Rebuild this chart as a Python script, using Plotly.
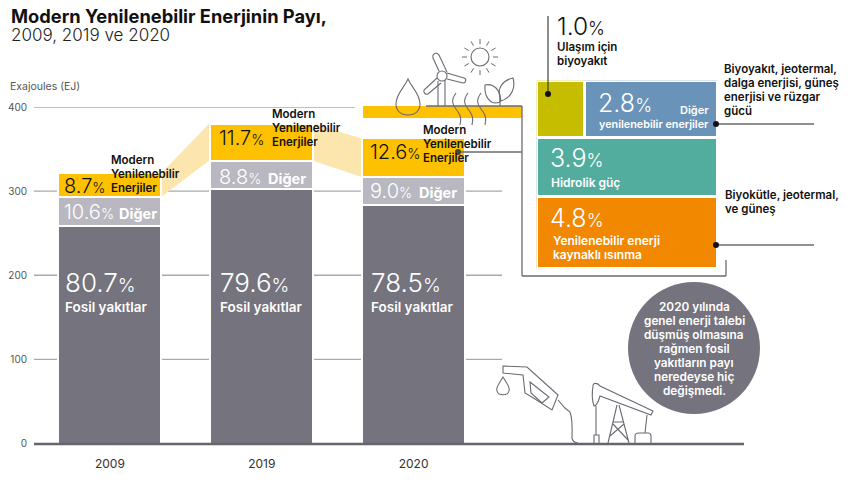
import math

import plotly.graph_objects as go

# ── Data ──────────────────────────────────────────────────────────
YEARS = ["2009", "2019", "2020"]
FOSSIL_EJ = [259, 303, 284]
OTHER_EJ = [34, 33, 33]
MODERN_EJ = [28, 44, 46]

FOSSIL_PCT = ["80.7", "79.6", "78.5"]
OTHER_PCT = ["10.6", "8.8", "9.0"]
MODERN_PCT = ["8.7", "11.7", "12.6"]

Y_TICKS = [0, 100, 200, 300, 400]

# 2020 breakdown of modern renewables: (row, value)
SPLIT_ROWS = [0, 0, 1, 2]
SPLIT_VALUES = [1.0, 2.8, 3.9, 4.8]
SPLIT_COLORS = ["#c6bd00", "#6a93ba", "#52ad9f", "#f28700"]

CIRCLE_LINES = ["2020 yılında", "genel enerji talebi", "düşmüş olmasına", "rağmen fosil",
                "yakıtların payı", "neredeyse hiç", "değişmedi."]

# ── Styles ────────────────────────────────────────────────────────
W, H = 852, 502
BODY = 8             # the page keeps an 8px body margin, so the figure is that much smaller
DARK = "#75737d"
GREY = "#b9b8c0"
YELLOW = "#fec100"
PALE = "#fde5ae"
ICON = "#6b6a72"
FONT = "Inter"

BAR_LEFT = 34        # px where the y axis starts
BAR_STEP = 152       # px between bars
BAR_WIDTH = 103 / BAR_STEP


def px(x):
    return (x - BODY) / (W - BODY)


def py(y):
    return (H - y) / (H - BODY)


fig = go.Figure()

# ── Stacked bars ──────────────────────────────────────────────────
for vals, color in [(FOSSIL_EJ, DARK), (OTHER_EJ, GREY), (MODERN_EJ, YELLOW)]:
    fig.add_trace(go.Bar(
        x=YEARS, y=vals, width=BAR_WIDTH,
        marker=dict(color=color, line=dict(color="white", width=2)),
        hoverinfo="skip", showlegend=False,
    ))

# ── Breakdown panel, areas proportional to the values ─────────────
row_sums = [sum(v for r, v in zip(SPLIT_ROWS, SPLIT_VALUES) if r == i) for i in range(3)]
bar_x, bar_w, bar_base, bar_h = [], [], [], []
for r, v in zip(SPLIT_ROWS, SPLIT_VALUES):
    before = sum(u for s, u in zip(SPLIT_ROWS[:len(bar_x)], SPLIT_VALUES) if s == r)
    bar_x.append((before + v / 2) / row_sums[r])
    bar_w.append(v / row_sums[r])
    bar_base.append(sum(row_sums[:r]))
    bar_h.append(row_sums[r])
fig.add_trace(go.Bar(
    x=bar_x, y=bar_h, base=bar_base, width=bar_w,
    marker=dict(color=SPLIT_COLORS, line=dict(color="white", width=3)),
    xaxis="x2", yaxis="y2", hoverinfo="skip", showlegend=False,
))

# empty trace so the pixel canvas axes exist
fig.add_trace(go.Scatter(x=[], y=[], xaxis="x3", yaxis="y3", hoverinfo="skip", showlegend=False))

# ── Shapes behind the bars ────────────────────────────────────────
shapes = []
for tick in Y_TICKS[1:]:
    shapes.append(dict(type="line", xref="paper", yref="y", layer="below",
                       x0=px(BAR_LEFT), x1=px(355 if tick == 400 else 502), y0=tick, y1=tick,
                       line=dict(color="#a9a9ad", width=1.3)))

# pale connectors between the modern segments
tops = [a + b + c for a, b, c in zip(FOSSIL_EJ, OTHER_EJ, MODERN_EJ)]
bottoms = [a + b for a, b in zip(FOSSIL_EJ, OTHER_EJ)]
for i in range(2):
    x0 = px(161 + i * BAR_STEP)
    x1 = px(209 + i * BAR_STEP)
    shapes.append(dict(type="path", xref="paper", yref="y", layer="below",
                       path=f"M{x0},{tops[i]} L{x1},{tops[i + 1]} L{x1},{bottoms[i + 1]} L{x0},{bottoms[i]} Z",
                       fillcolor=PALE, line=dict(width=0)))


def canvas(**kw):
    kw.setdefault("layer", "above")
    shapes.append(dict(xref="x3", yref="y3", **kw))


def icon(path, width=1.1, fill=None):
    canvas(type="path", path=path, line=dict(color=ICON, width=width),
           fillcolor=fill if fill else "rgba(0,0,0,0)")


def seg(x0, y0, x1, y1, color=ICON, width=1.3):
    canvas(type="line", x0=x0, y0=y0, x1=x1, y1=y1, line=dict(color=color, width=width))


def dot(x, y, color="#111111"):
    canvas(type="circle", x0=x - 3, x1=x + 3, y0=y - 3, y1=y + 3, fillcolor=color, line=dict(width=0))


# ── Baseline, band, leader lines ──────────────────────────────────
seg(BAR_LEFT, 444, 744, 444, color="#66656d", width=2.4)
canvas(type="rect", x0=363, x1=522, y0=106, y1=118, fillcolor=YELLOW, line=dict(width=0))
seg(426, 106, 522, 106)
seg(522, 106, 522, 276)
seg(522, 276, 726, 276)
seg(726, 276, 726, 260)
seg(458, 152, 522, 152)
dot(458, 152, color="#444444")
seg(548, 16, 548, 94, color="#333333", width=1.1)
dot(548, 94)
seg(716, 124, 814, 124, color="#222222", width=1.1)
dot(716, 124)
seg(716, 245, 814, 245, color="#222222", width=1.1)
dot(716, 245)

# circle callout
canvas(type="circle", x0=628, x1=760, y0=282, y1=414, fillcolor=DARK, line=dict(width=0))

# ── Icons, top ────────────────────────────────────────────────────
icon("M408,79 C404,88 396,94 396,104 C396,111 401,115 408,115 C415,115 420,111 420,104 C420,94 412,88 408,79 Z")
icon("M438,81 L438,106 M445,80 L445,106")
canvas(type="circle", x0=437, x1=447, y0=71, y1=81, line=dict(color=ICON, width=1.1))
icon("M439,71 L433,58 C432,53 437,52 439,55 L447,72")
icon("M447,73 L464,78 C467,79 466,83 463,83 L447,79")
icon("M437,78 L424,90 C423,93 426,95 428,94 L441,83")
canvas(type="circle", x0=471, x1=489, y0=48, y1=66, line=dict(color=ICON, width=1.1))
for k in range(12):
    a = math.radians(30 * k)
    seg(480 + 13 * math.cos(a), 57 + 13 * math.sin(a), 480 + 18 * math.cos(a), 57 + 18 * math.sin(a), width=1.0)
for dx in [0, 12, 25]:
    icon(f"M{456 + dx},93 C{451 + dx},100 {452 + dx},104 {456 + dx},109 C{460 + dx},114 {462 + dx},118 {460 + dx},125")
icon("M500,106 L500,97")
icon("M500,102 C490,106 484,96 485,85 C493,83 502,90 500,102 Z")
icon("M500,97 C497,88 503,80 513,78 C516,88 511,98 501,101 Z")

# ── Icons, bottom ─────────────────────────────────────────────────
icon("M503,366 L527,367 L558,395 L552,410 L535,399 L525,393 L523,375 L503,373 Z")
icon("M530,382 L549,397 L542,403 L531,393 Z")
icon("M558,400 L565,408 L570,412 C573,420 572,435 572,438 C573,442 576,443 578,443")
icon("M503,377 C498,385 496,388 497,391 C498,396 508,396 509,391 C510,388 508,385 503,377 Z")
icon("M593,386 C593,382 598,383 600,386 L653,411 L651,415 L600,396 C598,403 596,406 594,406 C592,400 592,392 593,386 Z")
icon("M596,406 L596,435 M594,444 L594,435 L599,435 L599,444")
icon("M617,405 L608,443 M619,405 L629,443 M613,422 L624,422 M610,436 L624,424 M613,424 L628,440")
icon("M647,415 L645,433 M635,443 L635,436 C635,434 637,433 639,433 L648,433 C650,433 651,434 651,436 L651,443")

# ── Text ──────────────────────────────────────────────────────────
annotations = []


def note(x, y, text, size=11.5, color="#111111", weight=600, anchor="left"):
    annotations.append(dict(xref="x3", yref="y3", x=x, y=y, text=text, showarrow=False,
                            xanchor=anchor, yanchor="middle", align=anchor, borderpad=0,
                            font=dict(family=FONT, size=size, color=color, weight=weight)))


def pct(x, y, value, size, color="white", weight=300):
    small = round(size * 0.72)
    note(x, y, f'{value}<span style="font-size:{small}px">%</span>', size=size, color=color, weight=weight)


note(10, 15.5, "Modern Yenilenebilir Enerjinin Payı,", size=18.3, weight=700)
note(10, 35, "2009, 2019 ve 2020", size=17, color="#222222", weight=300)
note(9, 86, "Exajoules (EJ)", size=10.5, color="#555555", weight=400)

BAR_TEXT_X = [63, 218, 369]
MODERN_Y = [186, 138, 152]
OTHER_Y = [212, 177, 191]
LABEL_X = [110, 271, 422]
LABEL_Y = [174, 128, 144]
DIGER_X = [118, 267, 418]
for i in range(3):
    pct(BAR_TEXT_X[i], MODERN_Y[i], MODERN_PCT[i], 20, color="#111111")
    pct(BAR_TEXT_X[i], OTHER_Y[i], OTHER_PCT[i], 20)
    pct(BAR_TEXT_X[i] + 1, 282, FOSSIL_PCT[i], 26)
    note(BAR_TEXT_X[i] + 1, 307, "Fosil yakıtlar", size=13.5, color="white")
    note(DIGER_X[i], OTHER_Y[i] + 1, "Diğer", size=14.5, color="white", weight=700)
    for j, word in enumerate(["Modern", "Yenilenebilir", "Enerjiler"]):
        note(LABEL_X[i], LABEL_Y[i] - 14 + 14 * j, word)

pct(556, 25.5, f"{SPLIT_VALUES[0]:.1f}", 24.5, color="#111111")
note(556, 47, "Ulaşım için")
note(556, 61, "biyoyakıt")

pct(597, 103, f"{SPLIT_VALUES[1]:.1f}", 25)
note(710, 110, "Diğer", size=11, color="white", anchor="right")
note(710, 124, "yenilenebilir enerjiler", size=10.8, color="white", anchor="right")
pct(549, 158, f"{SPLIT_VALUES[2]:.1f}", 25)
note(550, 182, "Hidrolik güç", size=12, color="white")
pct(549, 218, f"{SPLIT_VALUES[3]:.1f}", 25)
note(552, 240, "Yenilenebilir enerji", size=12, color="white")
note(552, 254, "kaynaklı ısınma", size=12, color="white")

for j, line in enumerate(["Biyoyakıt, jeotermal,", "dalga enerjisi, güneş", "enerjisi ve rüzgar", "gücü"]):
    note(723, 69 + 14 * j, line)
note(724, 195, "Biyokütle, jeotermal,")
note(724, 209, "ve güneş")

for j, line in enumerate(CIRCLE_LINES):
    note(694, 307 + 14 * j, line, size=11.8, color="white", anchor="center")

# ── Layout ────────────────────────────────────────────────────────
fig.update_layout(
    width=W - BODY, height=H - BODY,
    margin=dict(l=0, r=0, t=0, b=0, autoexpand=False),
    paper_bgcolor="white", plot_bgcolor="rgba(0,0,0,0)",
    barmode="stack", bargap=0,
    showlegend=False,
    xaxis=dict(domain=[px(BAR_LEFT), px(502)], type="category",
               range=[-0.5, 2.5 + 12.5 / BAR_STEP], showgrid=False, showline=False, zeroline=False,
               ticks="outside", ticklen=9, tickcolor="white",
               tickfont=dict(family=FONT, size=12, color="#333333")),
    yaxis=dict(domain=[py(443.5), py(107)], range=[0, 400], tickvals=Y_TICKS,
               showgrid=False, zeroline=False, showline=False, ticks="outside", ticklen=4, tickcolor="white",
               tickfont=dict(family=FONT, size=10, color="#555555")),
    xaxis2=dict(domain=[px(536.5), px(717.5)], range=[0, 1], visible=False, anchor="y2", fixedrange=True),
    yaxis2=dict(domain=[py(268.5), py(80.5)], range=[sum(SPLIT_VALUES), 0],
                visible=False, anchor="x2", fixedrange=True),
    xaxis3=dict(domain=[0, 1], range=[BODY, W], visible=False, anchor="y3", fixedrange=True),
    yaxis3=dict(domain=[0, 1], range=[H, BODY], visible=False, anchor="x3", fixedrange=True),
    shapes=shapes,
    annotations=annotations,
)

fig.write_html("out.html")
